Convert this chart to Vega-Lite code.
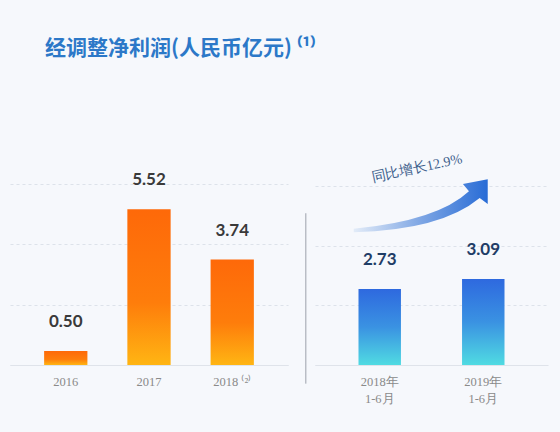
{
  "$schema": "https://vega.github.io/schema/vega-lite/v6.json",
  "background": "#f6f8fc",
  "padding": {"left": 10, "top": 38, "right": 12, "bottom": 27},
  "title": {
    "text": "经调整净利润(人民币亿元) ⁽¹⁾",
    "anchor": "start",
    "dx": 35,
    "offset": 93,
    "font": "Noto Sans CJK SC",
    "fontSize": 21,
    "fontWeight": "bold",
    "color": "#2c78c8"
  },
  "datasets": {
    "annual": [
      {"period": "2016", "value": 0.50},
      {"period": "2017", "value": 5.52},
      {"period": "2018", "value": 3.74}
    ],
    "half": [
      {"period": "2018年 1-6月", "value": 2.73},
      {"period": "2019年 1-6月", "value": 3.09}
    ]
  },
  "spacing": 16,
  "hconcat": [
    {
      "width": 278,
      "height": 181,
      "data": {"name": "annual"},
      "encoding": {
        "x": {
          "field": "period",
          "type": "nominal",
          "sort": null,
          "scale": {"paddingInner": 0.48, "paddingOuter": 0.41},
          "axis": {
            "title": null,
            "labelAngle": 0,
            "ticks": false,
            "labelPadding": 10,
            "labelColor": "#8a8a8a",
            "labelFont": "Liberation Serif",
            "labelFontSize": 12.5,
            "domainColor": "#dfe3ea",
            "labelExpr": "datum.label == '2018' ? '2018 ⁽²⁾' : datum.label"
          }
        },
        "y": {
          "field": "value",
          "type": "quantitative",
          "scale": {"domain": [0, 6.42]},
          "axis": {
            "title": null,
            "values": [0, 2.14, 4.28, 6.42],
            "labels": false,
            "ticks": false,
            "domain": false,
            "grid": true,
            "gridDash": [3, 3],
            "gridColor": "#dde2ea"
          }
        }
      },
      "layer": [
        {
          "mark": {
            "type": "bar",
            "color": {
              "gradient": "linear",
              "x1": 0, "y1": 0, "x2": 0, "y2": 1,
              "stops": [
                {"offset": 0, "color": "#fe6909"},
                {"offset": 0.6, "color": "#fe7d0b"},
                {"offset": 1, "color": "#ffb513"}
              ]
            }
          }
        },
        {
          "mark": {
            "type": "text",
            "baseline": "bottom",
            "dy": -20,
            "font": "Lato",
            "fontWeight": "bold",
            "fontSize": 17,
            "color": "#3a3a3a"
          },
          "encoding": {
            "text": {"field": "value", "type": "quantitative", "format": ".2f"}
          }
        }
      ]
    },
    {
      "width": 233,
      "height": 181,
      "layer": [
        {
          "data": {"name": "half"},
          "mark": {
            "type": "bar",
            "color": {
              "gradient": "linear",
              "x1": 0, "y1": 0, "x2": 0, "y2": 1,
              "stops": [
                {"offset": 0, "color": "#2e69df"},
                {"offset": 0.5, "color": "#3a92e2"},
                {"offset": 1, "color": "#50dbe2"}
              ]
            }
          },
          "encoding": {
            "x": {
              "field": "period",
              "type": "nominal",
              "sort": null,
              "scale": {"paddingInner": 0.59, "paddingOuter": 0.42},
              "axis": {
                "title": null,
                "labelAngle": 0,
                "ticks": false,
                "labelPadding": 10,
                "labelColor": "#8a8a8a",
                "labelFont": "Liberation Serif",
                "labelFontSize": 12.5,
                "labelLineHeight": 17,
                "domainColor": "#dfe3ea",
                "labelExpr": "split(datum.label, ' ')"
              }
            },
            "y": {
              "field": "value",
              "type": "quantitative",
              "scale": {"domain": [0, 6.42]},
              "axis": {
                "title": null,
                "values": [0, 2.14, 4.28, 6.42],
                "labels": false,
                "ticks": false,
                "domain": false,
                "grid": true,
                "gridDash": [3, 3],
                "gridColor": "#dde2ea"
              }
            }
          }
        },
        {
          "data": {"name": "half"},
          "mark": {
            "type": "text",
            "baseline": "bottom",
            "dy": -20,
            "font": "Lato",
            "fontWeight": "bold",
            "fontSize": 17,
            "color": "#1f3d66"
          },
          "encoding": {
            "x": {"field": "period", "type": "nominal", "sort": null},
            "y": {"field": "value", "type": "quantitative"},
            "text": {"field": "value", "type": "quantitative", "format": ".2f"}
          }
        },
        {
          "data": {"values": [{"note": "同比增长12.9%"}]},
          "mark": {
            "type": "rule",
            "color": "#b9bdc5",
            "strokeWidth": 1.5,
            "xOffset": -74
          },
          "encoding": {
            "x": {"datum": "2018年 1-6月", "type": "nominal"},
            "y": {"datum": 5.45, "type": "quantitative"},
            "y2": {"datum": -0.67}
          }
        },
        {
          "data": {"values": [{"note": "同比增长12.9%"}]},
          "mark": {
            "type": "point",
            "filled": true,
            "opacity": 1,
            "size": 17956,
            "xOffset": 41,
            "shape": "M-1,0.34 Q0.25,0.22 0.72,-0.22 L0.63,-0.33 L1,-0.4 L1,-0.03 L0.88,-0.12 Q0.3,0.36 -1,0.39 Z",
            "fill": {
              "gradient": "linear",
              "x1": 0, "y1": 0, "x2": 1, "y2": 0,
              "stops": [
                {"offset": 0, "color": "#e3ecf8"},
                {"offset": 0.5, "color": "#7ea6e4"},
                {"offset": 1, "color": "#286cd6"}
              ]
            },
            "strokeWidth": 0
          },
          "encoding": {
            "x": {"datum": "2018年 1-6月", "type": "nominal"},
            "y": {"datum": 5.71, "type": "quantitative"}
          }
        },
        {
          "data": {"values": [{"note": "同比增长12.9%"}]},
          "mark": {
            "type": "text",
            "angle": -12,
            "dx": 38,
            "font": "Liberation Serif",
            "fontSize": 14,
            "color": "#3e5f8c"
          },
          "encoding": {
            "x": {"datum": "2018年 1-6月", "type": "nominal"},
            "y": {"datum": 6.77, "type": "quantitative"},
            "text": {"field": "note", "type": "nominal"}
          }
        }
      ]
    }
  ],
  "config": {
    "view": {"stroke": null}
  }
}
